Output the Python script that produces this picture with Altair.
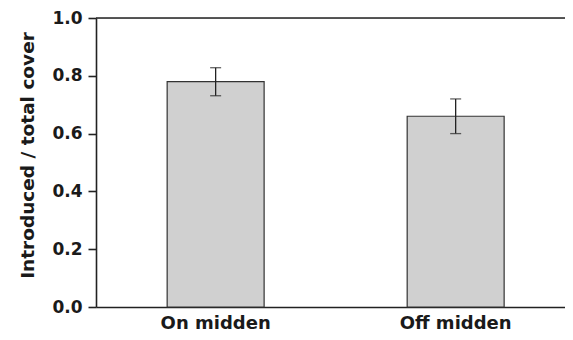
import altair as alt
import pandas as pd

categories = ["On midden", "Off midden"]
means = [0.78, 0.66]
lower = [0.731, 0.60]
upper = [0.828, 0.72]

df = pd.DataFrame({"cat": categories, "mean": means, "lo": lower, "hi": upper})
top_df = pd.DataFrame({"y": [1.0]})

FONT = "DejaVu Sans"

x_enc = alt.X(
    "cat:N",
    sort=categories,
    scale=alt.Scale(paddingInner=0.596, paddingOuter=0.275, align=0.539),
    axis=alt.Axis(
        title=None, labelAngle=0, ticks=False, labelPadding=7,
        labelFontSize=18, labelFontWeight="bold", labelFont=FONT, labelColor="#1a1a1a",
        domainColor="#222222", domainWidth=1.6,
    ),
)
y_scale = alt.Scale(domain=[0, 1])

bars = alt.Chart(df).mark_bar(
    fill="#d0d0d0", stroke="#333333", strokeWidth=1.2
).encode(
    x=x_enc,
    y=alt.Y(
        "mean:Q", scale=y_scale,
        axis=alt.Axis(
            title="Introduced / total cover", values=[0, 0.2, 0.4, 0.6, 0.8, 1.0],
            format=".1f", grid=False, tickSize=8, tickColor="#222222", tickWidth=1.6,
            labelPadding=6, labelFontSize=17, labelFontWeight="bold", labelFont=FONT,
            labelColor="#1a1a1a", domainColor="#222222", domainWidth=1.6,
            titleFontSize=18.5, titleFontWeight="bold", titleFont=FONT, titleColor="#1a1a1a",
            titleBaseline="alphabetic", titleX=-63, titleY=137, titleAngle=270,
        ),
    ),
)

err = alt.Chart(df).mark_rule(color="#222222", strokeWidth=1.3).encode(
    x=alt.X("cat:N", sort=categories),
    y=alt.Y("lo:Q", scale=y_scale),
    y2="hi:Q",
)
cap_lo = alt.Chart(df).mark_tick(color="#222222", thickness=1.3, size=11, orient="horizontal").encode(
    x=alt.X("cat:N", sort=categories), y=alt.Y("lo:Q", scale=y_scale)
)
cap_hi = alt.Chart(df).mark_tick(color="#222222", thickness=1.3, size=11, orient="horizontal").encode(
    x=alt.X("cat:N", sort=categories), y=alt.Y("hi:Q", scale=y_scale)
)
top_line = alt.Chart(top_df).mark_rule(color="#222222", strokeWidth=1.6).encode(
    y=alt.Y("y:Q", scale=y_scale)
)

chart = alt.layer(bars, err, cap_lo, cap_hi, top_line).properties(
    width=469, height=289,
    autosize=alt.AutoSizeParams(type="none"),
    padding={"left": 88, "top": 10, "right": 0, "bottom": 25},
).configure_view(stroke=None).configure(background="white")

chart.save("out.html", embed_options={"renderer": "svg", "actions": False})
